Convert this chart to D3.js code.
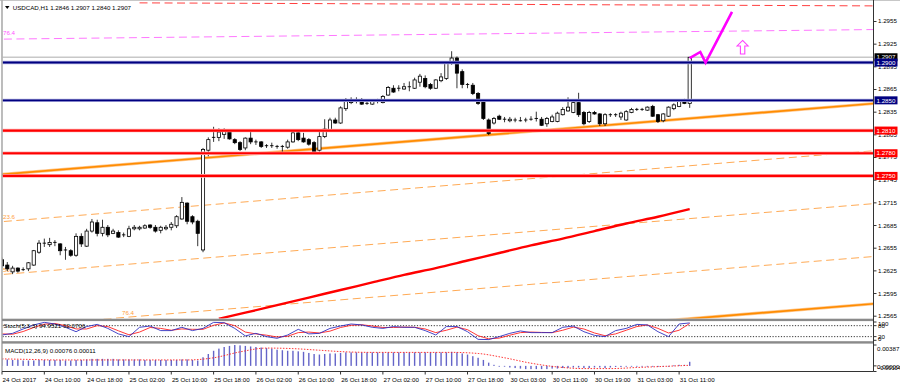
<!DOCTYPE html>
<html>
<head>
<meta charset="utf-8">
<script src="https://cdn.jsdelivr.net/npm/d3@7"></script>
<style>
  body { margin: 0; background: #fff; }
  svg { display: block; font-family: "Liberation Sans", Arial, sans-serif; }
</style>
</head>
<body>
<svg id="chart" width="900" height="387"></svg>
<script>
// ---- data ----
const title = "USDCAD,H1  1.2846 1.2907 1.2840 1.2907";

const open = [1.2639,1.2632,1.2623,1.2628,1.2626,1.2627,1.2632,1.2649,1.2661,1.2659,1.2662,1.2660,1.2652,1.2651,1.2645,1.2670,1.2657,1.2677,1.2688,1.2674,1.2682,1.2674,1.2675,1.2672,1.2670,1.2680,1.2680,1.2681,1.2685,1.2682,1.2678,1.2680,1.2682,1.2684,1.2693,1.2714,1.2696,1.2690,1.2652,1.2784,1.2800,1.2801,1.2805,1.2809,1.2798,1.2794,1.2787,1.2800,1.2795,1.2795,1.2790,1.2789,1.2789,1.2788,1.2788,1.2795,1.2807,1.2800,1.2798,1.2794,1.2784,1.2802,1.2811,1.2824,1.2820,1.2839,1.2847,1.2850,1.2850,1.2846,1.2845,1.2849,1.2847,1.2857,1.2866,1.2866,1.2865,1.2868,1.2866,1.2874,1.2879,1.2871,1.2866,1.2876,1.2879,1.2899,1.2906,1.2888,1.2871,1.2870,1.2859,1.2848,1.2824,1.2820,1.2829,1.2825,1.2823,1.2824,1.2823,1.2823,1.2825,1.2825,1.2825,1.2819,1.2822,1.2822,1.2831,1.2836,1.2834,1.2847,1.2834,1.2822,1.2834,1.2832,1.2819,1.2831,1.2830,1.2828,1.2824,1.2834,1.2838,1.2838,1.2837,1.2842,1.2831,1.2823,1.2829,1.2839,1.2842,1.2850,1.2846];
const high = [1.2642,1.2636,1.2631,1.2629,1.2629,1.2636,1.2652,1.2665,1.2667,1.2668,1.2665,1.2661,1.2656,1.2653,1.2674,1.2674,1.2680,1.2693,1.2692,1.2692,1.2685,1.2680,1.2678,1.2675,1.2684,1.2685,1.2684,1.2686,1.2686,1.2685,1.2684,1.2685,1.2689,1.2698,1.2722,1.2715,1.2698,1.2692,1.2787,1.2801,1.2815,1.2813,1.2813,1.2812,1.2800,1.2796,1.2801,1.2809,1.2798,1.2796,1.2792,1.2794,1.2791,1.2791,1.2798,1.2809,1.2809,1.2807,1.2800,1.2796,1.2812,1.2825,1.2827,1.2827,1.2842,1.2853,1.2854,1.2854,1.2853,1.2849,1.2850,1.2852,1.2857,1.2869,1.2870,1.2870,1.2873,1.2875,1.2880,1.2885,1.2883,1.2873,1.2878,1.2886,1.2901,1.2915,1.2908,1.2891,1.2873,1.2873,1.2861,1.2850,1.2826,1.2828,1.2831,1.2828,1.2828,1.2827,1.2828,1.2827,1.2829,1.2835,1.2828,1.2828,1.2831,1.2835,1.2841,1.2854,1.2850,1.2860,1.2836,1.2836,1.2836,1.2833,1.2833,1.2833,1.2833,1.2835,1.2837,1.2840,1.2840,1.2840,1.2842,1.2844,1.2832,1.2833,1.2842,1.2846,1.2850,1.2852,1.2907];
const low = [1.2628,1.2624,1.2620,1.2622,1.2624,1.2624,1.2631,1.2647,1.2656,1.2656,1.2657,1.2645,1.2639,1.2643,1.2643,1.2656,1.2656,1.2675,1.2670,1.2670,1.2669,1.2673,1.2668,1.2669,1.2669,1.2678,1.2678,1.2680,1.2680,1.2675,1.2674,1.2678,1.2678,1.2681,1.2692,1.2686,1.2686,1.2657,1.2649,1.2776,1.2795,1.2796,1.2799,1.2798,1.2792,1.2783,1.2784,1.2792,1.2791,1.2787,1.2787,1.2787,1.2786,1.2781,1.2786,1.2794,1.2796,1.2794,1.2790,1.2780,1.2782,1.2800,1.2809,1.2819,1.2819,1.2836,1.2845,1.2846,1.2844,1.2844,1.2844,1.2846,1.2846,1.2856,1.2860,1.2862,1.2864,1.2862,1.2865,1.2868,1.2866,1.2864,1.2865,1.2874,1.2877,1.2897,1.2866,1.2866,1.2866,1.2857,1.2844,1.2824,1.2804,1.2818,1.2824,1.2821,1.2821,1.2821,1.2822,1.2821,1.2823,1.2822,1.2816,1.2815,1.2821,1.2821,1.2830,1.2835,1.2833,1.2828,1.2817,1.2820,1.2831,1.2816,1.2816,1.2828,1.2828,1.2824,1.2823,1.2833,1.2836,1.2836,1.2836,1.2828,1.2820,1.2821,1.2828,1.2837,1.2841,1.2845,1.2840];
const close = [1.2631,1.2627,1.2628,1.2624,1.2625,1.2635,1.2651,1.2661,1.2660,1.2662,1.2661,1.2651,1.2651,1.2645,1.2670,1.2660,1.2677,1.2689,1.2674,1.2682,1.2672,1.2677,1.2669,1.2671,1.2680,1.2682,1.2682,1.2684,1.2682,1.2677,1.2682,1.2682,1.2686,1.2696,1.2715,1.2690,1.2689,1.2674,1.2785,1.2798,1.2801,1.2808,1.2809,1.2799,1.2794,1.2785,1.2800,1.2795,1.2794,1.2789,1.2789,1.2790,1.2788,1.2789,1.2795,1.2807,1.2798,1.2795,1.2792,1.2781,1.2802,1.2812,1.2824,1.2820,1.2840,1.2850,1.2851,1.2850,1.2845,1.2846,1.2849,1.2849,1.2855,1.2867,1.2861,1.2866,1.2868,1.2867,1.2877,1.2882,1.2868,1.2866,1.2877,1.2881,1.2899,1.2906,1.2886,1.2871,1.2870,1.2859,1.2846,1.2826,1.2806,1.2826,1.2825,1.2824,1.2825,1.2824,1.2823,1.2824,1.2825,1.2826,1.2817,1.2826,1.2828,1.2833,1.2838,1.2841,1.2847,1.2831,1.2819,1.2834,1.2832,1.2819,1.2831,1.2830,1.2831,1.2833,1.2835,1.2838,1.2837,1.2838,1.2841,1.2829,1.2822,1.2832,1.2841,1.2844,1.2849,1.2846,1.2907];

const priceTicks = [1.2955,1.2925,1.2895,1.2865,1.2835,1.2805,1.2775,1.2745,1.2715,1.2685,1.2655,1.2625,1.2595,1.2565];
const blueLevels = [1.2900, 1.2850];
const redLevels = [1.2810, 1.2780, 1.2750];
const bidPrice = 1.2907;

const timeLabels = ["24 Oct 2017","24 Oct 10:00","24 Oct 18:00","25 Oct 02:00","25 Oct 10:00","25 Oct 18:00","26 Oct 02:00","26 Oct 10:00","26 Oct 18:00","27 Oct 02:00","27 Oct 10:00","27 Oct 18:00","30 Oct 03:00","30 Oct 11:00","30 Oct 19:00","31 Oct 03:00","31 Oct 11:00"];
const timeLabelBars = [0,8,16,24,32,40,48,56,64,72,80,88,96,104,112,120,128];

// moving average (red), sampled bars
const maBars = [41,46,52,58,64,70,76,82,88,94,100,106,112,118,124,130];
const maValues = [1.2561,1.2569,1.2579,1.2589,1.2599,1.2609,1.2619,1.2628,1.2638,1.2648,1.2658,1.2667,1.2677,1.2687,1.2696,1.2706];

// fibo channel (orange): base line anchors, width of 100%
const fiboBars = [0, 130];
const fiboPrices = [1.2752, 1.2826];
const fiboWidth = 0.0265;
const fiboLevels = [0, 23.6, 50, 76.4, 100];
const fiboLabels = ["", "23.6", "50.0", "76.4", ""];
const fiboLabelBars = [0, 0, 0, 22.5, 0];

// top dashed lines
const violetBars = [0, 130], violetPrices = [1.2931, 1.2941];
const redDashBars = [26, 130], redDashPrices = [1.2979, 1.2976];

// forecast zigzag + arrow
const zigBars = [130, 132, 133, 138];
const zigPrices = [1.2906, 1.2914, 1.2900, 1.2967];
const arrowBar = 140, arrowPrice = 1.2920;

// stochastic (5,3,3) sampled every 2 bars
const stochBars = d3.range(0, 131, 2);
const stochMain = [29,38,62,84,98,89,71,47,75,87,65,35,20,71,78,53,53,71,53,65,98,96,65,24,38,20,11,29,60,35,38,65,78,89,84,71,65,75,71,71,53,29,75,75,47,5,4,20,38,51,42,42,42,71,78,47,27,20,53,65,87,84,47,20,89,95];
const stochSignal = [35,33,48,70,88,92,80,62,62,80,75,52,30,45,70,65,55,62,60,60,82,95,80,45,35,28,18,22,42,45,40,50,70,82,85,78,70,70,72,71,62,42,55,72,58,25,8,12,28,42,45,43,42,55,72,62,40,25,35,55,75,84,65,40,55,92];
const stochLevels = [80, 20];

// MACD (12,26,9)
const macdHist = [0.0013,0.0012,0.0011,0.0011,0.0010,0.0010,0.0010,0.0011,0.0011,0.0011,
  0.0011,0.0011,0.0010,0.0010,0.0011,0.0011,0.0012,0.0013,0.0013,0.0013,
  0.0013,0.0013,0.0012,0.0012,0.0012,0.0012,0.0012,0.0011,0.0011,0.0011,
  0.0011,0.0011,0.0011,0.0011,0.0012,0.0012,0.0011,0.0010,
  0.0016,0.0022,0.0028,0.0032,0.0035,0.0037,0.00387,0.0038,0.0037,0.0036,
  0.0035,0.0034,0.0033,0.0032,0.0030,0.0029,0.0028,0.0028,0.0027,0.0026,
  0.0024,0.0022,0.0021,0.0022,0.0023,0.0023,0.0024,0.0025,0.0025,0.0025,
  0.0025,0.0025,0.0025,0.0025,0.0025,0.0025,0.0025,0.0025,0.0025,0.0025,
  0.0025,0.0025,0.0025,0.0025,0.0025,0.0025,0.0025,0.0026,0.0025,0.0023,
  0.0021,0.0018,0.0015,0.0011,0.0006,0.0002,0.0000,-0.0001,-0.0003,-0.0004,
  -0.0005,-0.0006,-0.0006,-0.0006,-0.0006,-0.0006,-0.0005,-0.0005,-0.0004,-0.0004,
  -0.0003,-0.0003,-0.0004,-0.0004,-0.0003,-0.0003,-0.0004,-0.0003,-0.0002,-0.0002,
  -0.0001,-0.0001,-0.0001,0.0000,0.0000,-0.0001,-0.0002,-0.0001,0.0000,0.0001,0.0002,0.0002,
  0.00076];
const macdSignalBars = d3.range(0, 131, 5);
const macdSignal = [0.0013,0.0012,0.0011,0.0011,0.0011,0.0011,0.0011,0.0011,0.0015,0.0026,0.0033,0.0032,0.0029,0.0026,0.0025,0.0025,0.0025,0.0025,0.0023,0.0015,0.0005,-0.0002,-0.0005,-0.0005,-0.0003,-0.0001,0.00011];
const macdAxis = [0.00387, 0.00000, -0.00104];

// ---- layout ----
const plotL = 2.5, plotR = 873.5;
const mainTop = 0.5, mainBot = 318.5;
const stochTop = 321.2, stochBot = 341;
const macdTop = 343.5, macdBot = 371.5;
const fs = 6.2;

const svg = d3.select("#chart");

const x = d3.scaleLinear().domain([0, 130]).range([2, 689.7]);
const y = d3.scaleLinear().domain([1.2565, 1.2955]).range([315.7, 21]);
const yS = d3.scaleLinear().domain([0, 100]).range([340.3, 322]);
const yM = d3.scaleLinear().domain([-0.00104, 0.00387]).range([371.5, 345]);

const defs = svg.append("defs");
[["clipMain", mainTop, mainBot], ["clipStoch", stochTop, stochBot], ["clipMacd", macdTop, macdBot]]
  .forEach(([id, t, b]) => {
    defs.append("clipPath").attr("id", id)
      .append("rect").attr("x", plotL).attr("y", t).attr("width", plotR - plotL).attr("height", b - t);
  });

const main = svg.append("g").attr("clip-path", "url(#clipMain)");

// line through two anchors, extended to the right edge
function extLine(bars, prices, shift = 0, from = -2) {
  const k = (prices[1] - prices[0]) / (bars[1] - bars[0]);
  const b1 = 168;
  return [[x(from), y(prices[0] + k * (from - bars[0]) - shift)], [x(b1), y(prices[0] + k * (b1 - bars[0]) - shift)]];
}
const line2 = d3.line();

// bid line
main.append("line")
  .attr("x1", plotL).attr("x2", plotR).attr("y1", y(bidPrice)).attr("y2", y(bidPrice))
  .attr("stroke", "#c8c8c8").attr("stroke-width", 1.6);

// fibo channel
fiboLevels.forEach((lv, i) => {
  const pts = extLine(fiboBars, fiboPrices, fiboWidth * lv / 100);
  const solid = lv === 0 || lv === 100;
  if (solid) {
    main.append("path").attr("d", line2(pts)).attr("fill", "none")
      .attr("stroke", "#ffc890").attr("stroke-width", 3.2);
  }
  main.append("path").attr("d", line2(pts)).attr("fill", "none")
    .attr("stroke", solid ? "#ff8c00" : "#ffaa55")
    .attr("stroke-width", solid ? 1.7 : 1)
    .attr("stroke-dasharray", solid ? null : "8,4.5");
  if (fiboLabels[i]) {
    const k = (fiboPrices[1] - fiboPrices[0]) / (fiboBars[1] - fiboBars[0]);
    const b = fiboLabelBars[i];
    const p = fiboPrices[0] + k * (b - fiboBars[0]) - fiboWidth * lv / 100;
    main.append("text").attr("x", x(b) + 1).attr("y", y(p) - 3)
      .attr("font-size", fs).attr("fill", "#ffa040").text(fiboLabels[i]);
  }
});

// violet and red dashed lines at the top
main.append("path").attr("d", line2(extLine(violetBars, violetPrices)))
  .attr("fill", "none").attr("stroke", "#ff77ff").attr("stroke-width", 1).attr("stroke-dasharray", "8,4.5");
main.append("text").attr("x", 3).attr("y", y(violetPrices[0]) - 4.5)
  .attr("font-size", fs).attr("fill", "#ff55ff").text("76.4");
main.append("path").attr("d", line2(extLine(redDashBars, redDashPrices, 0, redDashBars[0])))
  .attr("fill", "none").attr("stroke", "#ff4040").attr("stroke-width", 1).attr("stroke-dasharray", "8,4.5");

// moving average
main.append("path")
  .datum(maBars.map((b, i) => [x(b), y(maValues[i])]))
  .attr("d", d3.line().curve(d3.curveMonotoneX))
  .attr("fill", "none").attr("stroke", "#ff0000").attr("stroke-width", 2.4);

// candles
const candles = main.append("g");
open.forEach((o, i) => {
  const cx = x(i);
  const c = close[i];
  candles.append("line")
    .attr("x1", cx).attr("x2", cx).attr("y1", y(high[i])).attr("y2", y(low[i]))
    .attr("stroke", "#000").attr("stroke-width", 0.8);
  const top = y(Math.max(o, c)), bot = y(Math.min(o, c));
  if (bot - top < 0.9) {
    candles.append("line").attr("x1", cx - 1.7).attr("x2", cx + 1.7)
      .attr("y1", top).attr("y2", top).attr("stroke", "#000").attr("stroke-width", 0.9);
  } else {
    candles.append("rect")
      .attr("x", cx - 1.6).attr("y", top).attr("width", 3.2).attr("height", bot - top)
      .attr("fill", c >= o ? "#fff" : "#000").attr("stroke", "#000").attr("stroke-width", 0.8);
  }
});

// horizontal levels
blueLevels.forEach(p => {
  main.append("line").attr("x1", plotL).attr("x2", plotR).attr("y1", y(p)).attr("y2", y(p))
    .attr("stroke", "#b0b0e0").attr("stroke-width", 3.4);
  main.append("line").attr("x1", plotL).attr("x2", plotR).attr("y1", y(p)).attr("y2", y(p))
    .attr("stroke", "#000080").attr("stroke-width", 1.9);
});
redLevels.forEach(p => {
  main.append("line").attr("x1", plotL).attr("x2", plotR).attr("y1", y(p)).attr("y2", y(p))
    .attr("stroke", "#ffb0b0").attr("stroke-width", 3.6);
  main.append("line").attr("x1", plotL).attr("x2", plotR).attr("y1", y(p)).attr("y2", y(p))
    .attr("stroke", "#ff0000").attr("stroke-width", 2.2);
});

// forecast
main.append("path")
  .datum(zigBars.map((b, i) => [x(b), y(zigPrices[i])]))
  .attr("d", d3.line())
  .attr("fill", "none").attr("stroke", "#ff00ff").attr("stroke-width", 2.6).attr("stroke-linejoin", "miter");
const ax = x(arrowBar), ay = y(arrowPrice);
main.append("path")
  .attr("d", `M${ax},${ay - 7} L${ax + 5.5},${ay - 1.5} L${ax + 2.2},${ay - 1.5} L${ax + 2.2},${ay + 6.5} L${ax - 2.2},${ay + 6.5} L${ax - 2.2},${ay - 1.5} L${ax - 5.5},${ay - 1.5} Z`)
  .attr("fill", "#fff").attr("stroke", "#ff40ff").attr("stroke-width", 1.1);

// title
svg.append("path").attr("d", "M5,6 L9.5,6 L7.25,9 Z").attr("fill", "#000");
svg.append("text").attr("x", 12.7).attr("y", 9.6).attr("font-size", fs).attr("fill", "#000").text(title);

// ---- stochastic ----
const st = svg.append("g").attr("clip-path", "url(#clipStoch)");
stochLevels.forEach(v => {
  st.append("line").attr("x1", plotL).attr("x2", plotR).attr("y1", yS(v)).attr("y2", yS(v))
    .attr("stroke", "#000").attr("stroke-width", 0.8).attr("stroke-dasharray", "1.2,1.6");
});
st.append("path").datum(stochBars.map((b, i) => [x(b), yS(stochSignal[i])]))
  .attr("d", d3.line()).attr("fill", "none").attr("stroke", "#ff2020").attr("stroke-width", 0.9);
st.append("path").datum(stochBars.map((b, i) => [x(b), yS(stochMain[i])]))
  .attr("d", d3.line()).attr("fill", "none").attr("stroke", "#3030c0").attr("stroke-width", 0.9);
svg.append("text").attr("x", 3.5).attr("y", 327.8).attr("font-size", fs).attr("fill", "#000")
  .text("Stoch(5,3,3) 94.9521 92.0706");

// ---- MACD ----
const mg = svg.append("g").attr("clip-path", "url(#clipMacd)");
macdHist.forEach((v, i) => {
  mg.append("rect")
    .attr("x", x(i) - 0.7).attr("width", 1.4)
    .attr("y", Math.min(yM(v), yM(0))).attr("height", Math.max(Math.abs(yM(v) - yM(0)), 0.8))
    .attr("fill", "#6464c8");
});
mg.append("path").datum(macdSignalBars.map((b, i) => [x(b), yM(macdSignal[i])]))
  .attr("d", d3.line().curve(d3.curveMonotoneX)).attr("fill", "none")
  .attr("stroke", "#ff2020").attr("stroke-width", 0.9).attr("stroke-dasharray", "1.5,1.5");
svg.append("text").attr("x", 5).attr("y", 352.8).attr("font-size", fs).attr("fill", "#000")
  .text("MACD(12,26,9) 0.00076 0.00011");

// ---- frame and separators ----
svg.append("line").attr("x1", 2).attr("x2", 2).attr("y1", 0).attr("y2", macdBot).attr("stroke", "#909090").attr("stroke-width", 1.2);
svg.append("line").attr("x1", 0).attr("x2", 900).attr("y1", 0.4).attr("y2", 0.4).attr("stroke", "#b0b0b0").attr("stroke-width", 0.8);
[mainBot + 0.2, stochBot + 0.2].forEach(t => {
  svg.append("rect").attr("x", 2).attr("y", t).attr("width", plotR - 2).attr("height", 2.4).attr("fill", "#8a8a8a");
});
svg.append("line").attr("x1", plotR).attr("x2", plotR).attr("y1", 0).attr("y2", macdBot).attr("stroke", "#333").attr("stroke-width", 1);
svg.append("line").attr("x1", 2).attr("x2", plotR).attr("y1", macdBot).attr("y2", macdBot).attr("stroke", "#333").attr("stroke-width", 1);

// price axis
const yAxis = d3.axisRight(y).tickValues(priceTicks).tickSize(3).tickPadding(1.5).tickFormat(d3.format(".4f"));
const ya = svg.append("g").attr("transform", `translate(${plotR},0)`).call(yAxis);
ya.select(".domain").remove();
ya.selectAll("text").attr("font-size", fs).attr("font-family", "Liberation Sans, Arial, sans-serif");
ya.selectAll("line").attr("stroke", "#333");

// price labels for levels
function priceBox(p, fill) {
  const g = svg.append("g");
  g.append("rect").attr("x", plotR + 1).attr("y", y(p) - 4).attr("width", 23).attr("height", 8).attr("fill", fill);
  g.append("text").attr("x", plotR + 3).attr("y", y(p) + 2.2).attr("font-size", fs).attr("fill", "#fff").text(d3.format(".4f")(p));
}
priceBox(bidPrice, "#000");
blueLevels.forEach(p => priceBox(p, "#000080"));
redLevels.forEach(p => priceBox(p, "#ff0000"));

// stoch axis labels (they overlap in the original too: the panel is tiny)
[[100, 323.6], [80, 325.8], [20, 336.6], [0, 338.6]].forEach(([v, yy]) => {
  svg.append("line").attr("x1", plotR).attr("x2", plotR + 3).attr("y1", yS(v)).attr("y2", yS(v)).attr("stroke", "#333");
  svg.append("text").attr("x", plotR + 4.5).attr("y", yy + 2.2).attr("font-size", fs).text(v);
});
// macd axis labels
[[macdAxis[0], 349.2, fs], [macdAxis[1], 366.6, fs], [macdAxis[2], 368, 5.7]].forEach(([v, yy, f]) => {
  svg.append("line").attr("x1", plotR).attr("x2", plotR + 3).attr("y1", yM(v)).attr("y2", yM(v)).attr("stroke", "#333");
  svg.append("text").attr("x", plotR + 3.5).attr("y", yy + 2.2).attr("font-size", f).text(d3.format(".5f")(v));
});

// time axis
timeLabelBars.forEach((b, i) => {
  svg.append("line").attr("x1", x(b)).attr("x2", x(b)).attr("y1", macdBot).attr("y2", macdBot + 3).attr("stroke", "#333");
  svg.append("text").attr("x", x(b) + 0.6).attr("y", 382.3).attr("font-size", fs).attr("fill", "#000").text(timeLabels[i]);
});
</script>
</body>
</html>
